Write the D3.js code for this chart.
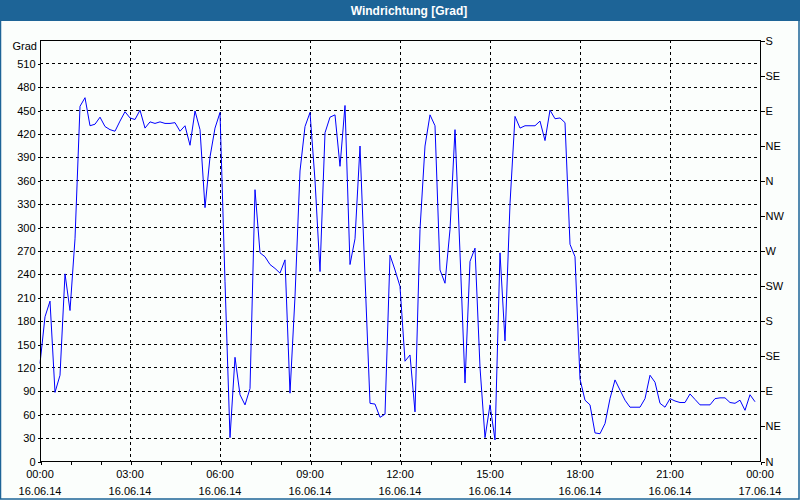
<!DOCTYPE html>
<html><head><meta charset="utf-8">
<script src="https://cdn.jsdelivr.net/npm/d3@7/dist/d3.min.js"></script>
<style>
html,body{margin:0;padding:0;background:#fbfefc;}
svg{display:block;}
text{font-family:"Liberation Sans",Arial,sans-serif;}
</style></head>
<body>
<script>
const title = "Windrichtung [Grad]";
const yUnit = "Grad";
const startTime = "2014-06-16T00:00";
const endTime = "2014-06-17T00:00";
const stepMinutes = 10;
// wind direction values every 10 minutes, starting 16.06.14 00:00
const values = [
 125,185,205,88,110,240,193,285,455,466,430,432,441,429,425,423,436,448,440,438,
 450,427,435,433,435,433,433,434,423,430,405,449,425,325,390,427,447,230,30,133,
 85,72,93,348,267,262,252,247,241,258,87,211,372,429,447,360,243,421,441,444,
 378,456,252,285,404,236,74,73,56,60,264,245,224,128,136,63,297,404,444,430,
 245,228,297,425,267,100,256,273,120,30,72,27,267,154,330,442,427,430,430,430,
 436,411,450,439,440,434,278,262,105,78,72,36,35,48,80,104,91,78,69,69,
 69,80,110,101,74,69,80,77,75,75,86,79,72,72,72,80,81,81,75,74,
 78,65,85,76
];
const leftTicks = [0,30,60,90,120,150,180,210,240,270,300,330,360,390,420,450,480,510];
const rightTickValues = [0,45,90,135,180,225,270,315,360,405,450,495,540];
const rightTickLabels = ["N","NE","E","SE","S","SW","W","NW","N","NE","E","SE","S"];
const xLabelHours = [0,3,6,9,12,15,18,21,24];

const W = 800, H = 500;
const M = {left:40, right:40, top:40, bottom:39};
const svg = d3.select("body").append("svg").attr("width",W).attr("height",H);

// frame and title bar
svg.append("rect").attr("x",0).attr("y",0).attr("width",W).attr("height",H).attr("fill","#fbfefc");
svg.append("rect").attr("x",0.5).attr("y",0.5).attr("width",W-1.5).attr("height",H-1.5)
  .attr("fill","none").attr("stroke","#1d6497").attr("stroke-width",1.5);
svg.append("rect").attr("x",0).attr("y",0).attr("width",W).attr("height",21).attr("fill","#1d6497");
svg.append("text").attr("x",409).attr("y",15).attr("text-anchor","middle")
  .attr("fill","#fff").attr("font-weight","bold").attr("font-size",12).text(title);

const parse = d3.timeParse("%Y-%m-%dT%H:%M");
const t0 = parse(startTime), t1 = parse(endTime);
const data = values.map((v,i)=>({t:d3.timeMinute.offset(t0,i*stepMinutes), v}));

const x = d3.scaleTime().domain([t0,t1]).range([M.left, W-M.right]);
const y = d3.scaleLinear().domain([0,540]).range([H-M.bottom, M.top]);

const g = svg.append("g");
// horizontal grid
g.selectAll("line.hg").data(leftTicks.filter(d=>d>0)).join("line")
  .attr("x1",M.left).attr("x2",W-M.right)
  .attr("y1",d=>Math.round(y(d))+0.5).attr("y2",d=>Math.round(y(d))+0.5)
  .attr("stroke","#000").attr("stroke-dasharray","3,3").attr("shape-rendering","crispEdges");
// vertical grid
const vHours = xLabelHours.filter(h=>h>0 && h<24);
g.selectAll("line.vg").data(vHours).join("line")
  .attr("x1",h=>Math.round(x(d3.timeHour.offset(t0,h)))+0.5)
  .attr("x2",h=>Math.round(x(d3.timeHour.offset(t0,h)))+0.5)
  .attr("y1",M.top).attr("y2",H-M.bottom)
  .attr("stroke","#000").attr("stroke-dasharray","3,3").attr("shape-rendering","crispEdges");

// line
const line = d3.line().x(d=>x(d.t)).y(d=>y(d.v));
svg.append("path").datum(data).attr("d",line).attr("fill","none")
  .attr("stroke","#0000ff").attr("stroke-width",1);

// plot border (top, left, right, bottom)
svg.append("path")
  .attr("d",`M${M.left+0.5},${M.top+0.5}H${W-M.right+0.5}V${H-M.bottom+0.5}H${M.left+0.5}Z`)
  .attr("fill","none").attr("stroke","#000").attr("shape-rendering","crispEdges");

// left axis
const yAxisL = d3.axisLeft(y).tickValues(leftTicks).tickSize(3).tickPadding(2);
const gl = svg.append("g").attr("transform",`translate(${M.left+0.5},0.5)`).call(yAxisL);
gl.select(".domain").remove();
gl.selectAll("text").attr("font-size",11).attr("fill","#000").attr("font-family","Liberation Sans, Arial, sans-serif");
gl.selectAll("line").attr("stroke","#000").attr("shape-rendering","crispEdges");
svg.append("text").attr("x",37).attr("y",50).attr("text-anchor","end")
  .attr("font-size",11).attr("fill","#000").text(yUnit);

// right axis
const yAxisR = d3.axisRight(y).tickValues(rightTickValues)
  .tickFormat((d,i)=>rightTickLabels[i]).tickSize(4).tickPadding(1);
const gr = svg.append("g").attr("transform",`translate(${W-M.right+0.5},0.5)`).call(yAxisR);
gr.select(".domain").remove();
gr.selectAll("text").attr("font-size",11).attr("fill","#000").attr("font-family","Liberation Sans, Arial, sans-serif");
gr.selectAll("line").attr("stroke","#000").attr("shape-rendering","crispEdges");

// bottom axis ticks (hourly)
const xAxis = d3.axisBottom(x).ticks(d3.timeHour.every(1)).tickSize(3).tickFormat("");
const gb = svg.append("g").attr("transform",`translate(0.5,${H-M.bottom+0.5})`).call(xAxis);
gb.select(".domain").remove();
gb.selectAll("line").attr("stroke","#000").attr("shape-rendering","crispEdges");

// bottom labels: time and date
const fmtT = d3.timeFormat("%H:%M"), fmtD = d3.timeFormat("%d.%m.%y");
const lab = svg.append("g").selectAll("g").data(xLabelHours).join("g")
  .attr("transform",h=>`translate(${x(d3.timeHour.offset(t0,h))},0)`);
lab.append("text").attr("y",478).attr("text-anchor","middle").attr("font-size",11)
  .text(h=>fmtT(d3.timeHour.offset(t0,h)));
lab.append("text").attr("y",495).attr("text-anchor","middle").attr("font-size",11)
  .text(h=>fmtD(d3.timeHour.offset(t0,h)));
</script>
</body></html>
